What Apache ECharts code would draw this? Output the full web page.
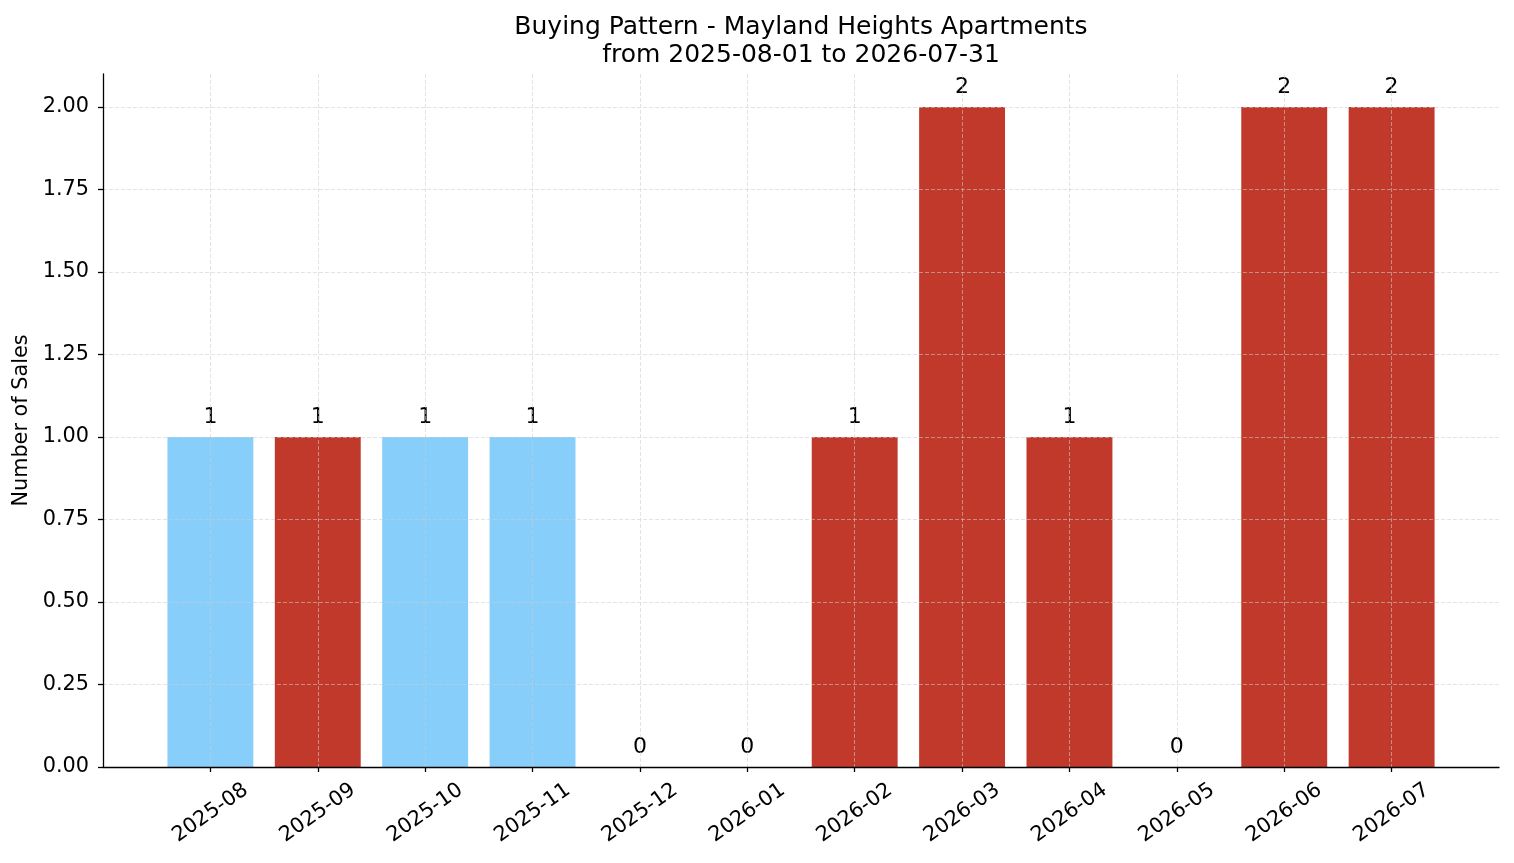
<!DOCTYPE html>
<html>
<head>
<meta charset="utf-8">
<script src="https://cdn.jsdelivr.net/npm/echarts@6/dist/echarts.min.js"></script>
<style>
html,body{margin:0;padding:0;background:#fff;}
#chart{width:1514px;height:863px;}
</style>
</head>
<body>
<div id="chart"></div>
<script>
const categories = ['2025-08','2025-09','2025-10','2025-11','2025-12','2026-01','2026-02','2026-03','2026-04','2026-05','2026-06','2026-07'];
const sales = [1, 1, 1, 1, 0, 0, 1, 2, 1, 0, 2, 2];
const barColors = ['#87CEFA','#C0392B','#87CEFA','#87CEFA','#C0392B','#C0392B','#C0392B','#C0392B','#C0392B','#C0392B','#C0392B','#C0392B'];
const yTicks = [0, 0.25, 0.5, 0.75, 1.0, 1.25, 1.5, 1.75, 2.0];
const titleText = 'Buying Pattern - Mayland Heights Apartments\nfrom 2025-08-01 to 2026-07-31';
const yName = 'Number of Sales';

const FONT = 'DejaVu Sans';
const xData = [''].concat(categories, ['']);
const seriesData = ['-'].concat(sales.map((v, i) => ({ value: v, itemStyle: { color: barColors[i] } })), ['-']);
const isCat = (idx, val) => val !== '';
const GRID_COLOR = 'rgba(205,205,205,0.7)';

const chart = echarts.init(document.getElementById('chart'), null, { renderer: 'canvas' });
chart.setOption({
  animation: false,
  backgroundColor: '#fff',
  textStyle: { fontFamily: FONT },
  title: {
    text: titleText,
    left: 801,
    top: 13,
    padding: 0,
    textAlign: 'center',
    textStyle: { fontFamily: FONT, fontSize: 25, fontWeight: 'normal', color: '#000', lineHeight: 28 }
  },
  grid: { left: 103, right: 15, top: 74, bottom: 96, containLabel: false },
  xAxis: {
    type: 'category',
    data: xData,
    boundaryGap: false,
    z: 3,
    axisLine: { lineStyle: { color: '#000', width: 1.3 } },
    axisTick: { show: true, interval: isCat, length: 5, lineStyle: { color: '#000', width: 1.3 } },
    axisLabel: {
      interval: isCat,
      rotate: 35,
      align: 'center',
      verticalAlign: 'middle',
      margin: 46,
      fontSize: 20.8,
      fontFamily: FONT,
      color: '#000'
    },
    splitLine: { show: true, interval: isCat, lineStyle: { color: GRID_COLOR, width: 0.8, type: [4, 2] } }
  },
  yAxis: {
    type: 'value',
    min: 0,
    max: 2.1,
    interval: 0.25,
    z: 3,
    name: yName,
    nameLocation: 'middle',
    nameGap: 65,
    nameTextStyle: { fontSize: 20.8, fontFamily: FONT, color: '#000' },
    axisLine: { show: true, lineStyle: { color: '#000', width: 1.3 } },
    axisTick: { show: true, length: 5, customValues: yTicks, lineStyle: { color: '#000', width: 1.3 } },
    axisLabel: {
      customValues: yTicks,
      margin: 14,
      fontSize: 20.8,
      fontFamily: FONT,
      color: '#000',
      formatter: v => Number(v).toFixed(2)
    },
    splitLine: { show: true, lineStyle: { color: GRID_COLOR, width: 0.8, type: [4, 2] } }
  },
  series: [{
    type: 'bar',
    data: seriesData,
    barWidth: '80%',
    label: {
      show: true,
      position: 'top',
      distance: 9,
      fontSize: 22,
      fontFamily: FONT,
      color: '#000',
      formatter: p => String(p.value)
    }
  }]
});
</script>
</body>
</html>
